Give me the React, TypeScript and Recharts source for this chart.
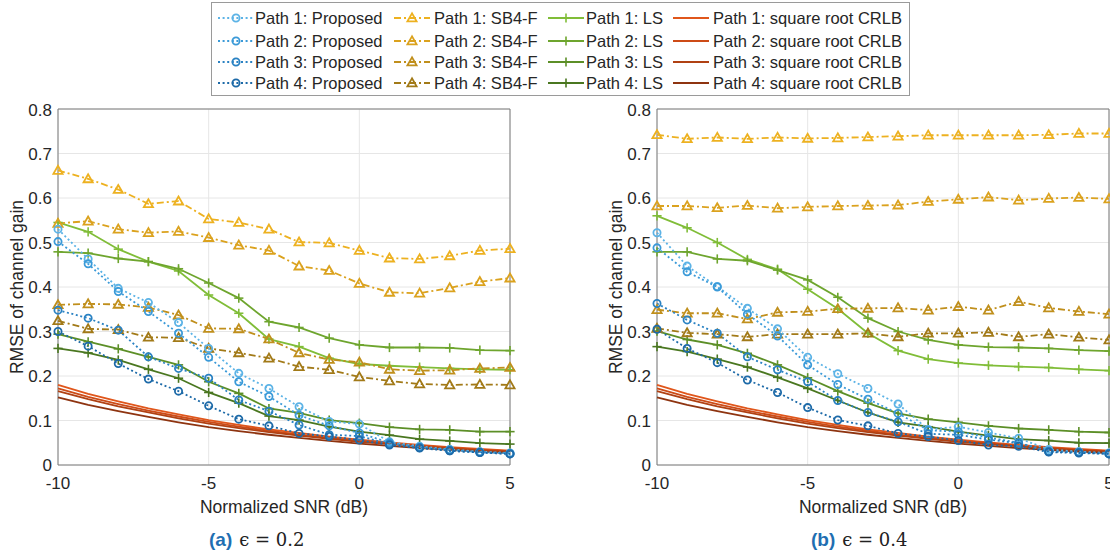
import React from "react";
import { LineChart, Line, XAxis, YAxis, CartesianGrid, ReferenceArea } from "recharts";

// SNR points (dB)
const snr = [-10, -9, -8, -7, -6, -5, -4, -3, -2, -1, 0, 1, 2, 3, 4, 5];

// (a) eps = 0.2
const aProp1 = [0.530, 0.463, 0.397, 0.365, 0.320, 0.262, 0.206, 0.172, 0.131, 0.098, 0.092, 0.052, 0.042, 0.035, 0.030, 0.027];
const aProp2 = [0.502, 0.452, 0.390, 0.345, 0.296, 0.242, 0.187, 0.154, 0.112, 0.088, 0.072, 0.050, 0.040, 0.034, 0.029, 0.026];
const aProp3 = [0.348, 0.330, 0.303, 0.243, 0.217, 0.195, 0.146, 0.121, 0.090, 0.068, 0.065, 0.047, 0.039, 0.032, 0.028, 0.025];
const aProp4 = [0.300, 0.267, 0.228, 0.193, 0.166, 0.133, 0.103, 0.088, 0.071, 0.064, 0.056, 0.045, 0.038, 0.032, 0.028, 0.025];
const aSb1 = [0.662, 0.643, 0.619, 0.587, 0.593, 0.553, 0.545, 0.530, 0.501, 0.499, 0.482, 0.465, 0.463, 0.470, 0.482, 0.486];
const aSb2 = [0.543, 0.548, 0.530, 0.522, 0.525, 0.511, 0.494, 0.482, 0.447, 0.437, 0.408, 0.388, 0.386, 0.398, 0.412, 0.420];
const aSb3 = [0.360, 0.362, 0.361, 0.354, 0.337, 0.307, 0.306, 0.283, 0.252, 0.237, 0.231, 0.215, 0.212, 0.213, 0.217, 0.219];
const aSb4 = [0.324, 0.306, 0.304, 0.287, 0.286, 0.262, 0.252, 0.240, 0.221, 0.214, 0.198, 0.189, 0.182, 0.180, 0.181, 0.180];
const aLs1 = [0.545, 0.524, 0.485, 0.457, 0.436, 0.382, 0.341, 0.283, 0.266, 0.240, 0.227, 0.223, 0.220, 0.217, 0.215, 0.214];
const aLs2 = [0.479, 0.476, 0.464, 0.457, 0.441, 0.409, 0.375, 0.322, 0.309, 0.285, 0.270, 0.264, 0.264, 0.263, 0.258, 0.257];
const aLs3 = [0.294, 0.277, 0.261, 0.243, 0.225, 0.187, 0.161, 0.127, 0.117, 0.101, 0.094, 0.085, 0.080, 0.079, 0.075, 0.075];
const aLs4 = [0.262, 0.252, 0.236, 0.215, 0.195, 0.163, 0.139, 0.110, 0.101, 0.086, 0.075, 0.067, 0.058, 0.054, 0.049, 0.047];

// (b) eps = 0.4
const bProp1 = [0.522, 0.447, 0.401, 0.352, 0.306, 0.242, 0.205, 0.172, 0.137, 0.080, 0.086, 0.073, 0.060, 0.035, 0.030, 0.027];
const bProp2 = [0.488, 0.434, 0.400, 0.339, 0.290, 0.225, 0.181, 0.148, 0.116, 0.078, 0.075, 0.062, 0.050, 0.031, 0.029, 0.026];
const bProp3 = [0.363, 0.326, 0.296, 0.243, 0.214, 0.187, 0.145, 0.118, 0.097, 0.070, 0.068, 0.057, 0.049, 0.030, 0.028, 0.025];
const bProp4 = [0.305, 0.262, 0.230, 0.191, 0.163, 0.129, 0.101, 0.088, 0.071, 0.064, 0.055, 0.045, 0.042, 0.029, 0.027, 0.025];
const bSb1 = [0.742, 0.733, 0.736, 0.733, 0.736, 0.734, 0.735, 0.737, 0.739, 0.741, 0.741, 0.741, 0.741, 0.742, 0.745, 0.745];
const bSb2 = [0.582, 0.582, 0.578, 0.583, 0.577, 0.580, 0.582, 0.583, 0.584, 0.592, 0.597, 0.602, 0.595, 0.599, 0.601, 0.598];
const bSb3 = [0.349, 0.341, 0.341, 0.328, 0.343, 0.345, 0.351, 0.352, 0.353, 0.348, 0.356, 0.348, 0.367, 0.353, 0.345, 0.339];
const bSb4 = [0.307, 0.297, 0.294, 0.288, 0.294, 0.294, 0.294, 0.296, 0.288, 0.296, 0.296, 0.298, 0.288, 0.294, 0.287, 0.281];
const bLs1 = [0.560, 0.533, 0.500, 0.462, 0.440, 0.395, 0.351, 0.296, 0.257, 0.238, 0.229, 0.224, 0.221, 0.219, 0.215, 0.212];
const bLs2 = [0.479, 0.479, 0.463, 0.459, 0.438, 0.416, 0.377, 0.330, 0.300, 0.281, 0.270, 0.265, 0.264, 0.262, 0.258, 0.256];
const bLs3 = [0.301, 0.282, 0.270, 0.251, 0.225, 0.196, 0.166, 0.139, 0.116, 0.103, 0.096, 0.088, 0.082, 0.079, 0.075, 0.073];
const bLs4 = [0.266, 0.255, 0.238, 0.220, 0.197, 0.172, 0.145, 0.118, 0.096, 0.086, 0.075, 0.066, 0.058, 0.055, 0.050, 0.049];

// square root CRLB (same in both panels)
const crlb1 = [0.180, 0.160, 0.143, 0.127, 0.114, 0.101, 0.090, 0.080, 0.072, 0.064, 0.057, 0.051, 0.045, 0.040, 0.036, 0.032];
const crlb2 = [0.172, 0.153, 0.137, 0.122, 0.109, 0.097, 0.086, 0.077, 0.068, 0.061, 0.054, 0.049, 0.043, 0.039, 0.034, 0.031];
const crlb3 = [0.166, 0.148, 0.132, 0.118, 0.105, 0.093, 0.083, 0.074, 0.066, 0.059, 0.052, 0.047, 0.042, 0.037, 0.033, 0.030];
const crlb4 = [0.152, 0.135, 0.121, 0.108, 0.096, 0.085, 0.076, 0.068, 0.061, 0.054, 0.048, 0.043, 0.038, 0.034, 0.030, 0.027];

const yTicks = [0, 0.1, 0.2, 0.3, 0.4, 0.5, 0.6, 0.7, 0.8];
const xTicks = [-10, -5, 0, 5];

const propColors = ["#5cb3e6", "#3b9ad8", "#2a82c3", "#1d6aa8"];
const sbColors = ["#edb120", "#dba21e", "#c08f1c", "#a27a18"];
const lsColors = ["#80bd38", "#6ea52e", "#5c8f27", "#4a7720"];
const crlbColors = ["#e0561b", "#cd4b17", "#b04113", "#8e3410"];

const FONT = "'Liberation Sans', Arial, Helvetica, sans-serif";
const TEXT = "#262626";

type Kind = "prop" | "sb" | "ls" | "crlb";

const dashOf: Record<Kind, string | undefined> = {
  prop: "2 2.6",
  sb: "7 3 2 3",
  ls: undefined,
  crlb: undefined,
};

function Marker({ kind, cx, cy, color }: { kind: Kind; cx: number; cy: number; color: string }) {
  if (kind === "prop") {
    return <circle cx={cx} cy={cy} r={3.6} fill="none" stroke={color} strokeWidth={1.8} />;
  }
  if (kind === "sb") {
    return (
      <polygon
        points={`${cx},${cy - 4.6} ${cx - 4.6},${cy + 3.4} ${cx + 4.6},${cy + 3.4}`}
        fill="none"
        stroke={color}
        strokeWidth={1.8}
      />
    );
  }
  if (kind === "ls") {
    return (
      <g stroke={color} strokeWidth={1.6}>
        <line x1={cx - 4.6} y1={cy} x2={cx + 4.6} y2={cy} />
        <line x1={cx} y1={cy - 4.6} x2={cx} y2={cy + 4.6} />
      </g>
    );
  }
  return null;
}

interface SeriesDef {
  key: string;
  kind: Kind;
  color: string;
  values: number[];
}

function buildSeries(prop: number[][], sb: number[][], ls: number[][]): SeriesDef[] {
  const crlb = [crlb1, crlb2, crlb3, crlb4];
  const out: SeriesDef[] = [];
  // draw order: CRLB, LS, SB4-F, Proposed on top
  crlb.forEach((v, i) => out.push({ key: `crlb${i + 1}`, kind: "crlb", color: crlbColors[i], values: v }));
  ls.forEach((v, i) => out.push({ key: `ls${i + 1}`, kind: "ls", color: lsColors[i], values: v }));
  sb.forEach((v, i) => out.push({ key: `sb${i + 1}`, kind: "sb", color: sbColors[i], values: v }));
  prop.forEach((v, i) => out.push({ key: `prop${i + 1}`, kind: "prop", color: propColors[i], values: v }));
  return out;
}

const seriesA = buildSeries([aProp1, aProp2, aProp3, aProp4], [aSb1, aSb2, aSb3, aSb4], [aLs1, aLs2, aLs3, aLs4]);
const seriesB = buildSeries([bProp1, bProp2, bProp3, bProp4], [bSb1, bSb2, bSb3, bSb4], [bLs1, bLs2, bLs3, bLs4]);

function toRows(series: SeriesDef[]) {
  return snr.map((x, i) => {
    const row: Record<string, number> = { snr: x };
    series.forEach((s) => (row[s.key] = s.values[i]));
    return row;
  });
}

function Panel({ series, left }: { series: SeriesDef[]; left: number }) {
  const data = toRows(series);
  return (
    <div style={{ position: "absolute", left, top: 100 }}>
      <LineChart width={560} height={420} data={data} margin={{ top: 9, right: 50, left: 0, bottom: 0 }}>
        <CartesianGrid stroke="#e6e6e6" strokeWidth={1} horizontalValues={yTicks} verticalValues={xTicks} />
        <XAxis
          dataKey="snr"
          type="number"
          domain={[-10, 5]}
          ticks={xTicks}
          height={55}
          tickSize={0}
          tickMargin={12}
          axisLine={false}
          tickLine={false}
          tick={{ fill: TEXT, fontSize: 17, fontFamily: FONT }}
          label={{ value: "Normalized SNR (dB)", position: "insideBottom", offset: 7, fill: TEXT, fontSize: 17.5, fontFamily: FONT }}
        />
        <YAxis
          type="number"
          domain={[0, 0.8]}
          ticks={yTicks}
          width={58}
          tickSize={0}
          tickMargin={6}
          axisLine={false}
          tickLine={false}
          tickFormatter={(v: number) => (v === 0 ? "0" : v.toFixed(1))}
          tick={{ fill: TEXT, fontSize: 17, fontFamily: FONT }}
          label={{
            value: "RMSE of channel gain",
            angle: -90,
            position: "insideLeft",
            offset: 17,
            fill: TEXT,
            fontSize: 17.5,
            fontFamily: FONT,
            style: { textAnchor: "middle" },
          }}
        />
        {series.map((s) => (
          <Line
            key={s.key}
            dataKey={s.key}
            type="linear"
            stroke={s.color}
            strokeWidth={1.8}
            strokeDasharray={dashOf[s.kind]}
            isAnimationActive={false}
            activeDot={false}
            dot={
              s.kind === "crlb"
                ? false
                : (p: any) => <Marker key={`${s.key}-${p.index}`} kind={s.kind} cx={p.cx} cy={p.cy} color={s.color} />
            }
          />
        ))}
        <ReferenceArea x1={-10} x2={5} y1={0} y2={0.8} fill="none" stroke="#7a7a7a" strokeWidth={1} ifOverflow="visible" />
      </LineChart>
    </div>
  );
}

const legendCols = [
  { kind: "prop" as Kind, label: "Proposed", colors: propColors, sample: 6, text: 43 },
  { kind: "sb" as Kind, label: "SB4-F", colors: sbColors, sample: 182, text: 222 },
  { kind: "ls" as Kind, label: "LS", colors: lsColors, sample: 336, text: 374 },
  { kind: "crlb" as Kind, label: "square root CRLB", colors: crlbColors, sample: 461, text: 501 },
];
const legendRows = [15, 37.5, 59, 80];

function LegendBox() {
  return (
    <div
      style={{
        position: "absolute",
        left: 211,
        top: 2,
        width: 697,
        height: 92,
        border: "1px solid #9a9a9a",
        background: "#fff",
        fontFamily: FONT,
        fontSize: 16.5,
        color: TEXT,
      }}
    >
      {legendCols.map((c) =>
        legendRows.map((y, r) => (
          <React.Fragment key={`${c.kind}-${r}`}>
            <svg style={{ position: "absolute", left: c.sample, top: y - 7 }} width={36} height={14}>
              <line x1={0} y1={7} x2={36} y2={7} stroke={c.colors[r]} strokeWidth={1.8} strokeDasharray={dashOf[c.kind]} />
              <Marker kind={c.kind} cx={18} cy={7} color={c.colors[r]} />
            </svg>
            <span style={{ position: "absolute", left: c.text, top: y - 10, lineHeight: "20px", whiteSpace: "nowrap" }}>
              {`Path ${r + 1}: ${c.label}`}
            </span>
          </React.Fragment>
        ))
      )}
    </div>
  );
}

function Caption({ tag, eps, left }: { tag: string; eps: string; left: number }) {
  return (
    <div style={{ position: "absolute", left, top: 527, whiteSpace: "nowrap", lineHeight: "26px" }}>
      <span style={{ fontFamily: FONT, fontWeight: "bold", fontSize: 19, color: "#1f6fb2" }}>({tag})</span>
      <span style={{ fontFamily: "'DejaVu Serif', 'Liberation Serif', serif", fontSize: 18, color: "#222", marginLeft: 7 }}>
        {"\u03F5 = " + eps}
      </span>
    </div>
  );
}

export default function App() {
  return (
    <div style={{ position: "fixed", left: 0, top: 0, width: 1110, height: 554, overflow: "hidden", background: "#fff" }}>
      <Panel series={seriesA} left={0} />
      <Panel series={seriesB} left={599} />
      <LegendBox />
      <Caption tag="a" eps="0.2" left={209} />
      <Caption tag="b" eps="0.4" left={811} />
    </div>
  );
}
